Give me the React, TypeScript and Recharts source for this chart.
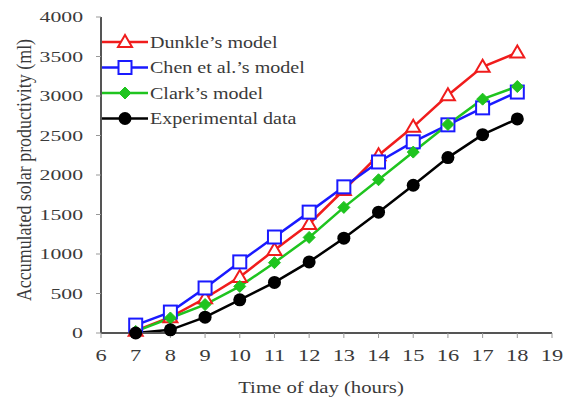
import { LineChart, Line, XAxis, YAxis } from 'recharts'

const hours = [7, 8, 9, 10, 11, 12, 13, 14, 15, 16, 17, 18]
const dunkle = [30, 200, 440, 710, 1050, 1380, 1810, 2250, 2610, 3010, 3370, 3550]
const chen = [100, 265, 570, 900, 1215, 1530, 1850, 2165, 2420, 2635, 2850, 3050]
const clark = [20, 190, 360, 590, 890, 1210, 1590, 1940, 2290, 2640, 2960, 3120]
const experimental = [0, 40, 200, 420, 640, 900, 1200, 1530, 1870, 2220, 2510, 2710]

const xTicks = [6, 7, 8, 9, 10, 11, 12, 13, 14, 15, 16, 17, 18, 19]
const yTicks = [0, 500, 1000, 1500, 2000, 2500, 3000, 3500, 4000]

const data = hours.map((h, i) => ({
  hour: h,
  dunkle: dunkle[i],
  chen: chen[i],
  clark: clark[i],
  exp: experimental[i]
}))

const FONT = '"Liberation Serif", "Times New Roman", serif'
const TEXT = '#3a3a3a'
const AXIS = '#555'

const series = [
  { key: 'dunkle', name: 'Dunkle\u2019s model', color: '#f01c1c', shape: 'triangle' },
  { key: 'chen', name: 'Chen et al.\u2019s model', color: '#1a1aff', shape: 'square' },
  { key: 'clark', name: 'Clark\u2019s model', color: '#1fc41f', shape: 'diamond' },
  { key: 'exp', name: 'Experimental data', color: '#000000', shape: 'circle' }
]

function Marker({ cx, cy, shape, color }: { cx: number; cy: number; shape: string; color: string }) {
  if (shape === 'triangle') {
    return (
      <polygon
        points={`${cx},${cy - 7} ${cx - 7},${cy + 5} ${cx + 7},${cy + 5}`}
        fill="#fff"
        stroke={color}
        strokeWidth={2}
      />
    )
  }
  if (shape === 'square') {
    return <rect x={cx - 6.5} y={cy - 6.5} width={13} height={13} fill="#fff" stroke={color} strokeWidth={2} />
  }
  if (shape === 'diamond') {
    return (
      <polygon
        points={`${cx},${cy - 6} ${cx + 6},${cy} ${cx},${cy + 6} ${cx - 6},${cy}`}
        fill={color}
        stroke={color}
        strokeWidth={1}
      />
    )
  }
  return <circle cx={cx} cy={cy} r={6.5} fill={color} />
}

function makeDot(shape: string, color: string) {
  return (props: any) => {
    const { cx, cy, index } = props
    if (cx == null || cy == null) return <g key={index} />
    return (
      <g key={`${shape}-${index}`}>
        <Marker cx={cx} cy={cy} shape={shape} color={color} />
      </g>
    )
  }
}

function XTick(props: any) {
  const { x, y, payload } = props
  return (
    <text
      transform={`translate(${x},${y}) scale(1.4,1)`}
      textAnchor="middle"
      dy="0.71em"
      fontFamily={FONT}
      fontSize={16}
      fill={TEXT}
    >
      {payload.value}
    </text>
  )
}

function YTick(props: any) {
  const { x, y, payload } = props
  return (
    <text
      transform={`translate(${x},${y}) scale(1.45,1)`}
      textAnchor="end"
      dy="0.35em"
      fontFamily={FONT}
      fontSize={15}
      fill={TEXT}
    >
      {payload.value}
    </text>
  )
}

// legend drawn over the top-left corner of the plot
function LegendBox() {
  const rows = [42, 67.5, 93, 118.5]
  return (
    <svg width={320} height={140} style={{ position: 'absolute', top: 0, left: 0 }}>
      {series.map((s, i) => (
        <g key={s.key}>
          <line x1={102} x2={148} y1={rows[i]} y2={rows[i]} stroke={s.color} strokeWidth={2.5} />
          <Marker cx={125} cy={rows[i]} shape={s.shape} color={s.color} />
          <text
            transform={`translate(150,${rows[i] + 5.5}) scale(1.18,1)`}
            fontFamily={FONT}
            fontSize={17}
            fill={TEXT}
          >
            {s.name}
          </text>
        </g>
      ))}
    </svg>
  )
}

export default function App() {
  return (
    <div style={{ position: 'relative', width: 566, height: 401, background: '#fff' }}>
      <style>{'body{margin:0}'}</style>
      <LineChart width={566} height={401} data={data} margin={{ top: 17, right: 14, bottom: 0, left: 0 }}>
        <XAxis
          dataKey="hour"
          type="number"
          domain={[6, 19]}
          ticks={xTicks}
          interval={0}
          height={68}
          axisLine={{ stroke: AXIS, strokeWidth: 2 }}
          tickLine={{ stroke: '#999' }}
          tickSize={5}
          tickMargin={12}
          tick={<XTick />}
          label={{
            content: () => (
              <text
                transform="translate(321,393) scale(1.22,1)"
                textAnchor="middle"
                fontFamily={FONT}
                fontSize={17}
                fill={TEXT}
              >
                Time of day (hours)
              </text>
            )
          }}
        />
        <XAxis
          xAxisId="top"
          orientation="top"
          type="number"
          domain={[6, 19]}
          height={0}
          tick={false}
          tickLine={false}
          axisLine={{ stroke: AXIS, strokeWidth: 2 }}
        />
        <YAxis
          type="number"
          domain={[0, 4000]}
          ticks={yTicks}
          interval={0}
          width={101}
          axisLine={{ stroke: AXIS, strokeWidth: 2 }}
          tickLine={{ stroke: '#999' }}
          tickSize={5}
          tickMargin={13}
          tick={<YTick />}
          label={{
            content: () => (
              <text
                transform="translate(31,170) rotate(-90) scale(1.12,1.3)"
                textAnchor="middle"
                fontFamily={FONT}
                fontSize={16}
                fill={TEXT}
              >
                Accumulated solar productivity (ml)
              </text>
            )
          }}
        />
        <YAxis
          yAxisId="right"
          orientation="right"
          type="number"
          domain={[0, 4000]}
          width={0}
          tick={false}
          tickLine={false}
          axisLine={{ stroke: AXIS, strokeWidth: 2 }}
        />
        {series.map((s) => (
          <Line
            key={s.key}
            dataKey={s.key}
            name={s.name}
            stroke={s.color}
            strokeWidth={2.5}
            dot={makeDot(s.shape, s.color)}
            activeDot={false}
            isAnimationActive={false}
          />
        ))}
      </LineChart>
      <LegendBox />
    </div>
  )
}
